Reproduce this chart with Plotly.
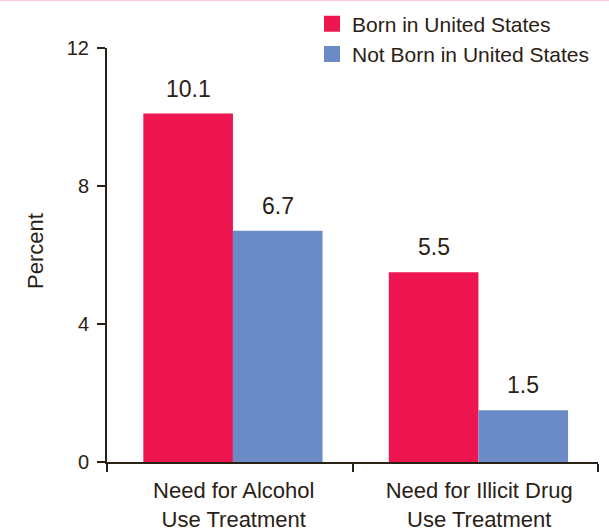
import plotly.graph_objects as go

categories = ["Need for Alcohol<br>Use Treatment", "Need for Illicit Drug<br>Use Treatment"]
series_names = ["Born in United States", "Not Born in United States"]
born_us = [10.1, 5.5]
not_born_us = [6.7, 1.5]
y_ticks = [0, 4, 8, 12]

RED = "#EE1651"
BLUE = "#6A8BC6"
TXT = "#2A2116"
FONT = "Liberation Sans, Arial, Helvetica, sans-serif"

W, H = 609, 532
ML, MR, MT, MB = 107, 11, 48, 70
PW, PH = W - ML - MR, H - MT - MB
BAR_W = 0.365
OFFSETS = [-0.352, 0.013]

fig = go.Figure()
series = [born_us, not_born_us]
colors = [RED, BLUE]
for name, vals, col, off in zip(series_names, series, colors, OFFSETS):
    fig.add_trace(go.Bar(
        x=categories, y=vals, name=name, marker_color=col,
        marker_line_width=0, width=BAR_W, offset=off, showlegend=False,
    ))
    # legend entry with larger square swatch
    fig.add_trace(go.Scatter(
        x=[None], y=[None], mode="markers", name=name,
        marker=dict(symbol="square", size=16, color=col), showlegend=True,
    ))

# value labels above bars
for vals, off in zip(series, OFFSETS):
    for i, v in enumerate(vals):
        fig.add_annotation(
            x=i + off + BAR_W / 2, y=v, xref="x", yref="y",
            text=f"{v:.1f}", showarrow=False, yanchor="bottom",
            yshift=10, font=dict(size=23, color=TXT, family=FONT),
        )

# y axis title
fig.add_annotation(
    x=(36 - ML) / PW, y=1 - (251 - MT) / PH,
    xref="paper", yref="paper", xanchor="center", yanchor="middle",
    text="Percent", textangle=-90,
    showarrow=False, font=dict(size=22, color=TXT, family=FONT),
)

# thin pink rule at the top edge
fig.add_shape(
    type="line", xref="paper", yref="paper",
    x0=-ML / PW, x1=1 + MR / PW,
    y0=1 + (MT - 0.5) / PH, y1=1 + (MT - 0.5) / PH,
    line=dict(color="#F9CDE0", width=1.5),
)

fig.update_layout(
    width=W, height=H,
    margin=dict(l=ML, r=MR, t=MT, b=MB, autoexpand=False),
    paper_bgcolor="white", plot_bgcolor="white",
    barmode="overlay",
    font=dict(family=FONT, color=TXT, size=21),
    legend=dict(
        x=(312 - ML) / PW, xanchor="left",
        y=1 + (MT - 3.5) / PH, yanchor="top",
        font=dict(size=21, color=TXT, family=FONT),
        bgcolor="rgba(0,0,0,0)", borderwidth=0, tracegroupgap=0,
    ),
    xaxis=dict(
        type="category", tickson="boundaries", ticks="outside",
        ticklen=8, tickwidth=2, tickcolor=TXT,
        showline=True, linecolor=TXT, linewidth=2,
        showgrid=False, zeroline=False,
        tickfont=dict(size=22, color=TXT, family=FONT),
        ticklabelshift=4, ticklabelstandoff=8,
    ),
    yaxis=dict(
        range=[0, 12], tickvals=y_ticks, ticktext=[str(t) for t in y_ticks],
        ticks="outside", ticklen=8, tickwidth=2, tickcolor=TXT,
        showline=True, linecolor=TXT, linewidth=2,
        showgrid=False, zeroline=False,
        tickfont=dict(size=20, color=TXT, family=FONT),
        ticklabelstandoff=4,
    ),
)

fig.write_html("out.html")
